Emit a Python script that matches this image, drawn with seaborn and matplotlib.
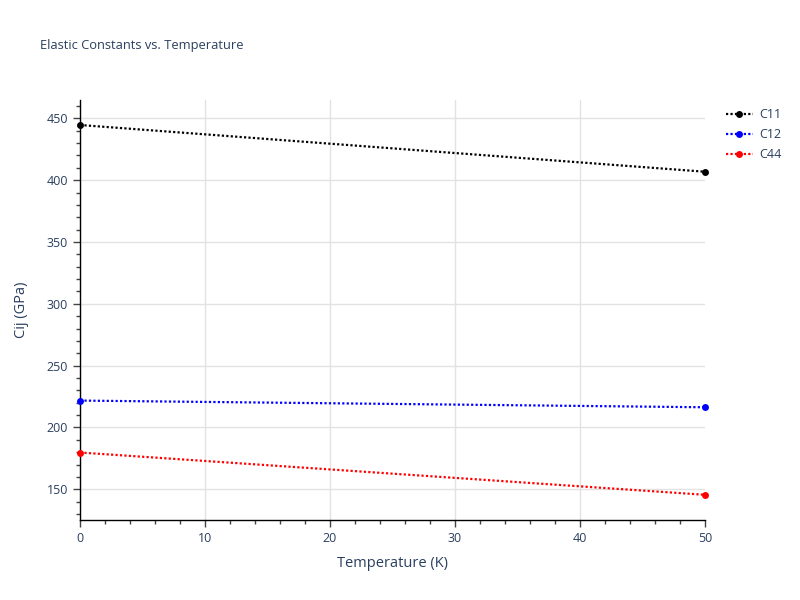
import matplotlib
matplotlib.use("Agg")
import matplotlib.pyplot as plt
import seaborn as sns
import pandas as pd
from matplotlib.ticker import MultipleLocator
from matplotlib.lines import Line2D

temperature = [0, 50]
c11 = [444.6, 406.8]
c12 = [221.7, 216.3]
c44 = [179.7, 145.5]
series_names = ["C11", "C12", "C44"]
series_colors = ["black", "blue", "red"]

df = pd.DataFrame({
    "T": temperature * 3,
    "val": c11 + c12 + c44,
    "name": [series_names[0]] * 2 + [series_names[1]] * 2 + [series_names[2]] * 2,
})

sns.set_style("white")
plt.rcParams['font.family'] = ['Open Sans', 'DejaVu Sans']
text_color = "#2a3f5f"

fig = plt.figure(figsize=(8, 6), dpi=100)
ax = fig.add_axes([0.1, 0.1333, 0.78125, 0.7])

sns.lineplot(data=df, x="T", y="val", hue="name", palette=series_colors,
             marker="o", markersize=5, markeredgewidth=0, linewidth=1.6,
             ax=ax, legend=False, clip_on=False, zorder=3)
for line in ax.lines:
    line.set_linestyle((0, (1, 1)))

ax.set_xlim(0, 50)
ax.set_ylim(125.1, 464.8)
ax.xaxis.set_major_locator(MultipleLocator(10))
ax.xaxis.set_minor_locator(MultipleLocator(2))
ax.yaxis.set_major_locator(MultipleLocator(50))
ax.yaxis.set_minor_locator(MultipleLocator(10))
ax.grid(True, which="major", color="#e2e2e2", linewidth=1)
ax.set_axisbelow(True)
for s in ["top", "right"]:
    ax.spines[s].set_visible(False)
for s in ["left", "bottom"]:
    ax.spines[s].set_color("black")
    ax.spines[s].set_linewidth(1)
ax.tick_params(which="major", direction="out", length=5, width=1, color="#444444",
               labelsize=9, labelcolor=text_color, left=True, bottom=True)
ax.tick_params(which="minor", direction="out", length=3, width=1, color="#444444",
               left=True, bottom=True)

ax.set_xlabel("Temperature (K)", fontsize=10.5, color=text_color, labelpad=8)
ax.set_ylabel("Cij (GPa)", fontsize=10.5, color=text_color)
ax.yaxis.set_label_coords(-0.082, 0.5)

fig.canvas.draw()
for gl, loc in zip(ax.xaxis.get_gridlines(), ax.get_xticks()):
    if loc >= 50:
        gl.set_visible(False)

fig.text(0.05, 1 - 45 / 600, "Elastic Constants vs. Temperature", fontsize=9.3,
         color=text_color, va="center", ha="left")

handles = [Line2D([0], [0], color=c, linestyle=(0, (1, 1)), linewidth=1.6,
                  marker="o", markersize=5, markeredgewidth=0) for c in series_colors]
leg = fig.legend(handles, series_names, loc="upper left",
                 bbox_to_anchor=(0.893, 1 - 97 / 600), frameon=False,
                 fontsize=9, labelcolor=text_color, handlelength=2.2,
                 handletextpad=0.5, labelspacing=0.55)

fig.savefig("out.png", dpi=100)
